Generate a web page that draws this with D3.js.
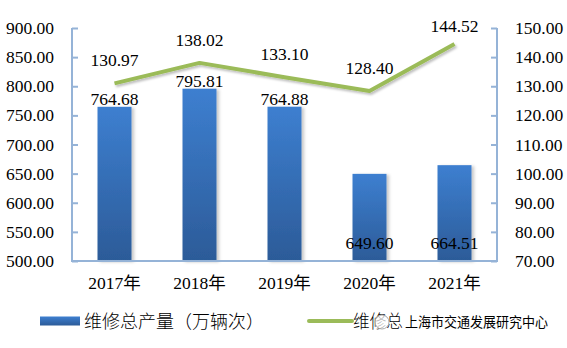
<!DOCTYPE html>
<html>
<head>
<meta charset="utf-8">
<script src="https://cdn.jsdelivr.net/npm/d3@7"></script>
<style>
  html, body { margin: 0; padding: 0; background: #ffffff; }
  svg { display: block; }
  text { font-family: "Liberation Serif", "Noto Sans CJK SC", serif; fill: #000; }
</style>
</head>
<body>
<svg id="chart" width="567" height="348"></svg>
<script>
// Annual figures, 2017–2021
const years = ["2017年", "2018年", "2019年", "2020年", "2021年"];
const repairVolume = [764.68, 795.81, 764.88, 649.60, 664.51];   // 维修总产量（万辆次）
const repairValue  = [130.97, 138.02, 133.10, 128.40, 144.52];   // 维修总产值
const leftTicks  = [500, 550, 600, 650, 700, 750, 800, 850, 900];
const rightTicks = [70, 80, 90, 100, 110, 120, 130, 140, 150];
const volumeLabel = "维修总产量（万辆次）";
const valueLabel  = "维修总";
const watermark   = "上海市交通发展研究中心";

const svg = d3.select("#chart");
const plot = { left: 72, right: 497, top: 28, bottom: 261 };
const axisColor = "#95b3d7";
const fontSize = 17.5;

const x = d3.scaleBand().domain(years).range([plot.left, plot.right]).paddingInner(0).paddingOuter(0);
const yL = d3.scaleLinear().domain([500, 900]).range([plot.bottom, plot.top]);
const yR = d3.scaleLinear().domain([70, 150]).range([plot.bottom, plot.top]);

const defs = svg.append("defs");
const grad = defs.append("linearGradient").attr("id", "barGrad")
  .attr("x1", 0).attr("y1", 0).attr("x2", 0).attr("y2", 1);
grad.append("stop").attr("offset", "0%").attr("stop-color", "#3d7fd0");
grad.append("stop").attr("offset", "100%").attr("stop-color", "#2c5b98");

const lgrad = defs.append("linearGradient").attr("id", "legGrad")
  .attr("x1", 0).attr("y1", 0).attr("x2", 0).attr("y2", 1);
lgrad.append("stop").attr("offset", "0%").attr("stop-color", "#3d7fd0");
lgrad.append("stop").attr("offset", "100%").attr("stop-color", "#2c5b98");

const shadow = defs.append("filter").attr("id", "shadow")
  .attr("x", "-20%").attr("y", "-20%").attr("width", "150%").attr("height", "150%");
shadow.append("feDropShadow").attr("dx", 2.5).attr("dy", 1).attr("stdDeviation", 1.8)
  .attr("flood-color", "#000").attr("flood-opacity", 0.22);

const lineShadow = defs.append("filter").attr("id", "lineShadow")
  .attr("x", "-10%").attr("y", "-30%").attr("width", "120%").attr("height", "160%");
lineShadow.append("feDropShadow").attr("dx", 1.5).attr("dy", 2).attr("stdDeviation", 1.2)
  .attr("flood-color", "#000").attr("flood-opacity", 0.25);

// Bars
const barW = x.bandwidth() * 0.4;
svg.append("g").selectAll("rect").data(repairVolume).join("rect")
  .attr("x", (d, i) => x(years[i]) + (x.bandwidth() - barW) / 2)
  .attr("y", d => yL(d))
  .attr("width", barW)
  .attr("height", d => plot.bottom - yL(d))
  .attr("fill", "url(#barGrad)")
  .attr("filter", "url(#shadow)");

// Axes
const leftAxis = svg.append("g").attr("transform", `translate(${plot.left},0)`)
  .call(d3.axisLeft(yL).tickValues(leftTicks).tickSize(-6).tickPadding(18).tickFormat(d3.format(".2f")));
const rightAxis = svg.append("g").attr("transform", `translate(${plot.right},0)`)
  .call(d3.axisRight(yR).tickValues(rightTicks).tickSize(-6).tickPadding(18).tickFormat(d3.format(".2f")));
const bottomAxis = svg.append("g").attr("transform", `translate(0,${plot.bottom})`)
  .call(d3.axisBottom(x).tickSize(0).tickPadding(16));

[leftAxis, rightAxis, bottomAxis].forEach(g => {
  g.select(".domain").attr("stroke", axisColor).attr("stroke-width", 2);
  g.selectAll(".tick line").attr("stroke", axisColor).attr("stroke-width", 2);
  g.selectAll("text").attr("font-family", "Liberation Serif, Noto Sans CJK SC, serif")
    .attr("font-size", fontSize).attr("fill", "#000");
});
leftAxis.select(".domain").attr("d", `M0,${plot.top}V${plot.bottom}`);
rightAxis.select(".domain").attr("d", `M0,${plot.top}V${plot.bottom}`);
bottomAxis.select(".domain").attr("d", `M${plot.left - 1},0H${plot.right + 1}`);

// Line series
const cx = (i) => x(years[i]) + x.bandwidth() / 2;
const line = d3.line().x((d, i) => cx(i)).y(d => yR(d));
svg.append("path").datum(repairValue)
  .attr("d", line)
  .attr("fill", "none")
  .attr("stroke", "#9bbb59")
  .attr("stroke-width", 4)
  .attr("stroke-linejoin", "round")
  .attr("filter", "url(#lineShadow)");

// Bar value labels: at the bar top, or inside the base for short bars
svg.append("g").selectAll("text").data(repairVolume).join("text")
  .attr("x", (d, i) => cx(i))
  .attr("y", d => d < 700 ? plot.bottom - 12 : yL(d) - 2)
  .attr("text-anchor", "middle")
  .attr("font-size", fontSize)
  .text(d => d.toFixed(2));

// Line value labels above each point
svg.append("g").selectAll("text").data(repairValue).join("text")
  .attr("x", (d, i) => cx(i))
  .attr("y", d => Math.max(yR(d) - 17, plot.top + 4))
  .attr("text-anchor", "middle")
  .attr("font-size", fontSize)
  .text(d => d.toFixed(2));

// Legend
const legY = 321;
svg.append("rect").attr("x", 40).attr("y", legY - 4.5).attr("width", 40).attr("height", 9)
  .attr("fill", "url(#legGrad)");
svg.append("text").attr("x", 84).attr("y", legY + 6.5).attr("font-size", 18)
  .attr("font-family", "Noto Sans CJK SC, sans-serif").attr("font-weight", 300)
  .attr("fill", "#222").text(volumeLabel);
svg.append("line").attr("x1", 309).attr("x2", 352).attr("y1", legY).attr("y2", legY)
  .attr("stroke", "#9bbb59").attr("stroke-width", 4).attr("stroke-linecap", "round");
svg.append("text").attr("x", 353).attr("y", legY + 6.5).attr("font-size", 18)
  .attr("font-family", "Noto Sans CJK SC, sans-serif").attr("font-weight", 300)
  .attr("fill", "#222").attr("textLength", 50).attr("lengthAdjust", "spacingAndGlyphs")
  .text(valueLabel);

// Publisher watermark at the end of the legend
const wm = svg.append("g");
wm.append("circle").attr("cx", 382).attr("cy", legY + 1).attr("r", 7)
  .attr("fill", "#fff").attr("fill-opacity", 0.7).attr("stroke", "#aaa").attr("stroke-width", 1);
wm.append("text").attr("x", 405).attr("y", legY + 6).attr("font-size", 13.5)
  .attr("font-family", "Noto Sans CJK SC, sans-serif")
  .attr("fill", "#333")
  .attr("textLength", 143).attr("lengthAdjust", "spacingAndGlyphs")
  .text(watermark);
</script>
</body>
</html>
